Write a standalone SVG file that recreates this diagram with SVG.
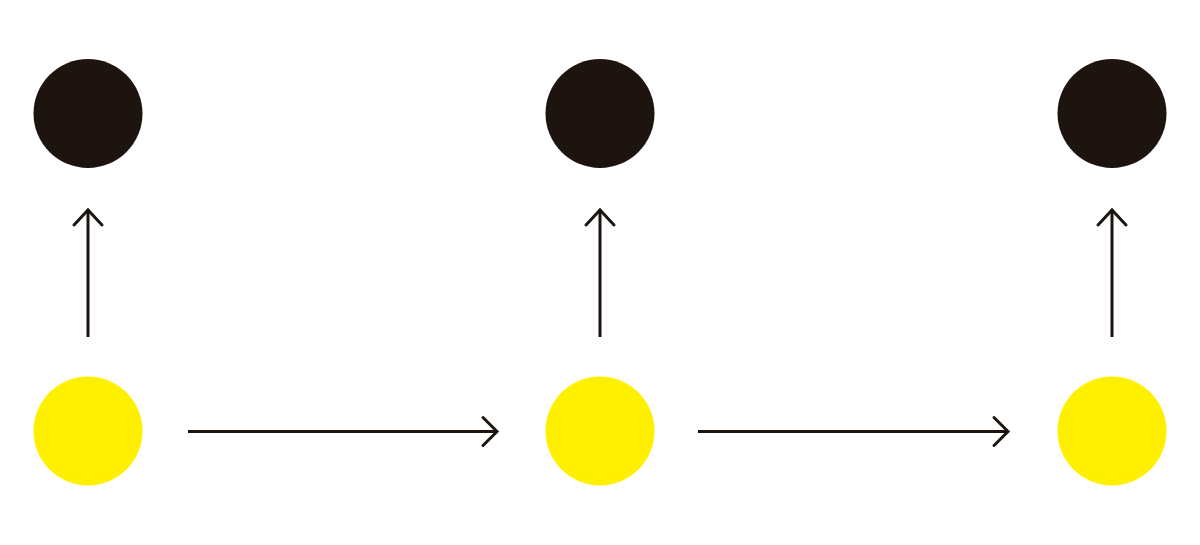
<svg xmlns="http://www.w3.org/2000/svg" width="1200" height="545" viewBox="0 0 1200 545">
<style>
.dark{fill:#1e140f}
.yel{fill:#fff000}
.ln{stroke:#1e140f;stroke-width:3;fill:none;stroke-linecap:butt}
.hd{stroke:#1e140f;stroke-width:3;fill:none;stroke-linecap:round;stroke-linejoin:miter}
</style>
<rect width="1200" height="545" fill="#fff"/>
<g id="top1"><circle class="dark" cx="88" cy="113.5" r="54.5"/></g>
<g id="top2"><circle class="dark" cx="600" cy="113.5" r="54.5"/></g>
<g id="top3"><circle class="dark" cx="1112" cy="113.5" r="54.5"/></g>
<g id="bot1"><circle class="yel" cx="88" cy="431" r="54.5"/></g>
<g id="bot2"><circle class="yel" cx="600" cy="431" r="54.5"/></g>
<g id="bot3"><circle class="yel" cx="1112" cy="431" r="54.5"/></g>
<g id="connectors">
<line class="ln" x1="88" y1="337" x2="88" y2="210"/>
<path class="hd" d="M74 225 L88 210 L102 225"/>
<line class="ln" x1="600" y1="337" x2="600" y2="210"/>
<path class="hd" d="M586 225 L600 210 L614 225"/>
<line class="ln" x1="1112" y1="337" x2="1112" y2="210"/>
<path class="hd" d="M1098 225 L1112 210 L1126 225"/>
<line class="ln" x1="188" y1="431.5" x2="497" y2="431.5"/>
<path class="hd" d="M483 417.5 L497 431.5 L483 445.5"/>
<line class="ln" x1="698" y1="431.5" x2="1008" y2="431.5"/>
<path class="hd" d="M994 417.5 L1008 431.5 L994 445.5"/>
</g>
</svg>
